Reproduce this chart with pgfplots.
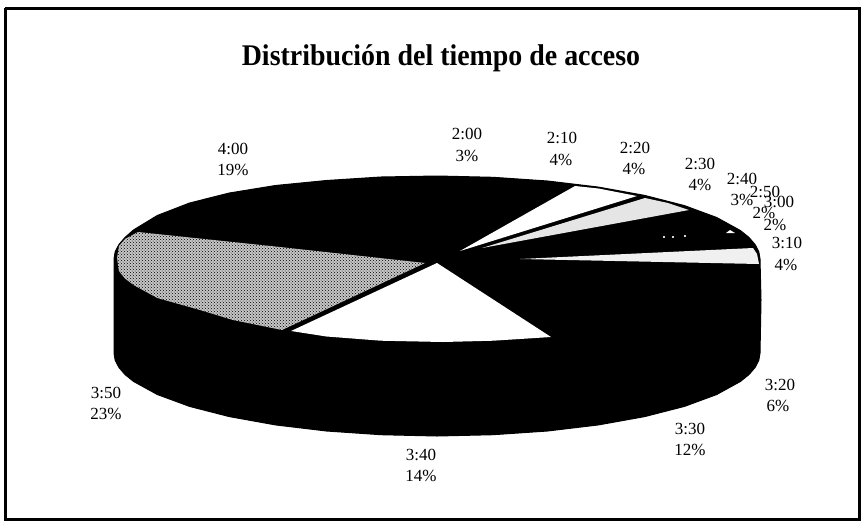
\documentclass[border=0pt]{standalone}
\usepackage{fontspec}
\setmainfont{Liberation Serif}
\usepackage{pgfplots}
\pgfplotsset{compat=1.18}
\usetikzlibrary{patterns}

\newcommand{\pct}[3]{\node[font=\fontsize{17}{21}\selectfont,inner sep=0pt] at (axis cs:#1,#2) {#3\%};}
\newcommand{\tim}[3]{\node[font=\fontsize{17}{21}\selectfont,inner sep=0pt] at (axis cs:#1,#2) {#3};}

\begin{document}
\begin{tikzpicture}
\begin{axis}[
    scale only axis,
    width=864pt,
    height=523pt,
    xmin=0, xmax=864,
    ymin=0, ymax=523,
    y dir=reverse,
    ticks=none,
    axis line style={draw=none},
]
% frame
\addplot[black, line width=3pt] coordinates {(5,8) (859,8) (859,519) (5,519) (5,8)};

% body of the pie, top arc then lower arc
\addplot[fill=black, draw=black, line width=1pt] coordinates {
    (114,259) (115.2,251.8) (118.9,244.6) (125,237.5) (133.5,230) (157.3,215.5)
    (189.6,203) (229.4,193) (275.5,185.5) (326.5,180.5) (380.9,177) (437,176)
    (493.1,177.3) (547.5,181) (598.5,187.1) (644.6,195.4) (684.4,205.6) (716.7,217.5)
    (740.5,230.6) (749,237.5) (755.1,244.6) (758.8,251.8) (760,259)
    (761,300) (760,353) (758.8,360.2) (755.1,367.4) (749,374.5) (740.5,381.4) (716.7,394.5)
    (684.4,406.4) (644.6,416.6) (598.5,424.9) (547.5,431) (493.1,434.7) (437,436)
    (380.9,434.7) (326.5,431) (275.5,424.9) (229.4,416.6) (189.6,406.4) (157.3,394.5)
    (133.5,381.4) (125,374.5) (118.9,367.4) (115.2,360.2) (114,353) (114,259)
};

% 3:50
\addplot[fill=black!22, draw=none] coordinates {
    (425,263) (282,330) (233,320) (200,310) (157.3,298) (133.5,285) (125,278.5)
    (118.9,271) (117,258) (119,246) (125,239) (138,232) (280,247) (425,263)
};
\addplot[pattern=crosshatch dots, pattern color=black, draw=none] coordinates {
    (425,263) (282,330) (233,320) (200,310) (157.3,298) (133.5,285) (125,278.5)
    (118.9,271) (117,258) (119,246) (125,239) (138,232) (280,247) (425,263)
};
% 3:40
\addplot[fill=white, draw=none] coordinates {
    (437,263) (551,337) (493.1,340.7) (443,342) (380.9,340.7) (326.5,336.5) (291,331) (437,263)
};
% 2:10
\addplot[fill=white, draw=none] coordinates {
    (460,251) (575,186) (598.5,188.5) (637,196) (460,251)
};
% 2:20
\addplot[fill=black!10, draw=none] coordinates {
    (482,248) (645,198) (668,203) (689,210) (482,248)
};
% 3:10
\addplot[fill=black!6, draw=none] coordinates {
    (520,259) (753,248) (757,254) (759,264) (520,259)
};
% small flecks on the 3:00 slice
\addplot[fill=white, draw=none] coordinates {(726,233) (730,230) (735,233) (726,233)};
\addplot[only marks, mark=*, mark size=0.8pt, white] coordinates {(664,237) (673,237) (685,236)};

% title
\node[font=\fontsize{30}{32}\selectfont\bfseries, inner sep=0pt, xscale=0.93] at (axis cs:441,58) {Distribución del tiempo de acceso};

% labels
\tim{233}{149}{4:00} \pct{233}{170}{19}
\tim{467}{134}{2:00} \pct{467}{156}{3}
\tim{562}{138}{2:10} \pct{561}{160}{4}
\tim{635}{148}{2:20} \pct{634}{169}{4}
\tim{700}{164}{2:30} \pct{700}{185}{4}
\tim{742}{179}{2:40} \pct{742}{200}{3}
\tim{765}{192}{2:50} \pct{764}{213}{2}
\tim{779}{202}{3:00} \pct{775}{225}{2}
\tim{787}{243}{3:10} \pct{786}{265}{4}
\tim{780}{385}{3:20} \pct{778}{406}{6}
\tim{690}{429}{3:30} \pct{690}{450}{12}
\tim{421}{455}{3:40} \pct{421}{476}{14}
\tim{106}{393}{3:50} \pct{106}{414}{23}
\end{axis}
\end{tikzpicture}
\end{document}
